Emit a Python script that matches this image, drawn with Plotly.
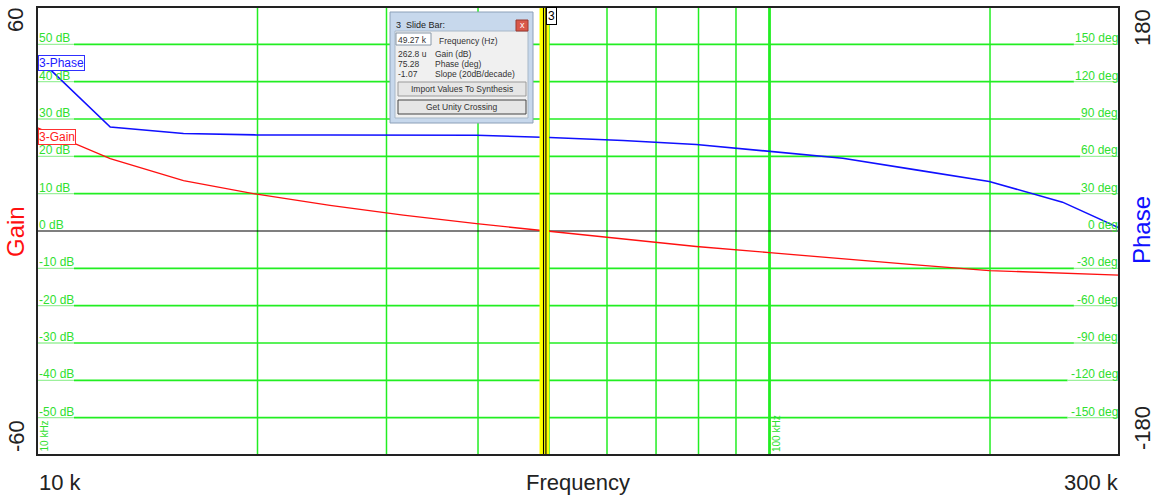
import math
import plotly.graph_objects as go

# ---------------- data ----------------
freq_hz = [10000, 12589, 15849, 19953, 25119, 31623, 39811, 50119, 63096,
           79433, 100000, 125893, 158489, 199526, 251189, 300000]
gain_db = [27.7, 19.4, 13.5, 9.85, 6.85, 4.25, 1.95, -0.1, -2.23, -4.15,
           -5.8, -7.5, -9.07, -10.6, -11.3, -11.8]
phase_deg = [140, 83.5, 78.3, 77.2, 77.2, 77.2, 76.9, 75.1, 72.7, 69.5,
             64.1, 58.5, 49.1, 39.8, 23.2, 2.5]

grid_freqs = [20000, 30000, 40000, 50000, 60000, 70000, 80000, 90000, 100000, 200000]
gain_grid = [50, 40, 30, 20, 10, 0, -10, -20, -30, -40, -50]
phase_grid = [150, 120, 90, 60, 30, 0, -30, -60, -90, -120, -150]
cursor_freq = 49270
dialog_lines = [("262.8 u", "Gain (dB)"), ("75.28", "Phase (deg)"), ("-1.07", "Slope (20dB/decade)")]

# ---------------- geometry helpers ----------------
FIG_W, FIG_H = 1162, 499
X0, X1, Y0, Y1 = 37, 1119, 7, 455
FMIN, FMAX = 10000, 300000
LMIN, LMAX = math.log10(FMIN), math.log10(FMAX)


def px(x):
    return (x - X0) / (X1 - X0)


def py(y):
    return (Y1 - y) / (Y1 - Y0)


def fx(f):
    return (math.log10(f) - LMIN) / (LMAX - LMIN)


def gy(db):
    return (db + 60) / 120.0


FONT = "Arial, Liberation Sans, sans-serif"
GREEN = "#22ee22"
PALE = "#9cf09c"
LBL_GREEN = "#30e030"

fig = go.Figure()
fig.add_trace(go.Scatter(x=freq_hz, y=gain_db, mode="lines", name="3-Gain", hoverinfo="skip",
                         line=dict(color="#ff1010", width=1.3), yaxis="y"))
fig.add_trace(go.Scatter(x=freq_hz, y=phase_deg, mode="lines", name="3-Phase", hoverinfo="skip",
                         line=dict(color="#1010ff", width=1.6), yaxis="y2"))

shapes = []
ann = []

# vertical grid
for f in grid_freqs:
    w = 2.8 if f == 100000 else 1.5
    shapes.append(dict(type="line", xref="paper", yref="paper", x0=fx(f), x1=fx(f),
                       y0=0, y1=1, line=dict(color=GREEN, width=w), layer="below"))

# horizontal grid + labels
for db, deg in zip(gain_grid, phase_grid):
    yy = gy(db)
    rlab = f"{deg} deg"
    rstart = 1119 - (6.3 * len(rlab) + 1)
    if db == 0:
        shapes.append(dict(type="line", xref="paper", yref="paper", x0=0, x1=1, y0=yy, y1=yy,
                           line=dict(color="black", width=1.2), layer="below"))
    else:
        shapes.append(dict(type="line", xref="paper", yref="paper", x0=0, x1=px(74), y0=yy, y1=yy,
                           line=dict(color=PALE, width=1.3), layer="below"))
        shapes.append(dict(type="line", xref="paper", yref="paper", x0=px(74), x1=px(rstart), y0=yy, y1=yy,
                           line=dict(color=GREEN, width=1.6), layer="below"))
        shapes.append(dict(type="line", xref="paper", yref="paper", x0=px(rstart), x1=1, y0=yy, y1=yy,
                           line=dict(color=PALE, width=1.3), layer="below"))
    ann.append(dict(text=f"{db} dB", xref="paper", yref="paper", x=px(38), y=yy, xanchor="left",
                    yanchor="bottom", showarrow=False, font=dict(family=FONT, size=12, color=LBL_GREEN),
                    borderpad=0, yshift=-2))
    ann.append(dict(text=rlab, xref="paper", yref="paper", x=1, y=yy, xanchor="right",
                    yanchor="bottom", showarrow=False, font=dict(family=FONT, size=12, color=LBL_GREEN),
                    borderpad=0, yshift=-2))

# rotated frequency labels
ann.append(dict(text="10 kHz", xref="paper", yref="paper", x=px(44), y=py(453), xanchor="center",
                yanchor="bottom", textangle=-90, showarrow=False,
                font=dict(family=FONT, size=10, color=LBL_GREEN), borderpad=0))
ann.append(dict(text="100 kHz", xref="paper", yref="paper", x=fx(100000) + px(X0 + 7) - px(X0), y=py(453),
                xanchor="center", yanchor="bottom", textangle=-90, showarrow=False,
                font=dict(family=FONT, size=10, color=LBL_GREEN), borderpad=0))

# cursor band
cx = fx(cursor_freq)
dx = 4.8 / (X1 - X0)
shapes.append(dict(type="rect", xref="paper", yref="paper", x0=cx - dx, x1=cx + dx, y0=0, y1=1,
                   fillcolor="#ffff00", line=dict(width=0), layer="above"))
for off in (-0.8, 1.6):
    shapes.append(dict(type="line", xref="paper", yref="paper", x0=cx + off / (X1 - X0),
                       x1=cx + off / (X1 - X0), y0=0, y1=1, line=dict(color="black", width=1.1), layer="above"))
ann.append(dict(text="3", xref="paper", yref="paper", x=cx + 1.8 / (X1 - X0), y=1, xanchor="left",
                yanchor="top", showarrow=False, bgcolor="white", bordercolor="black", borderwidth=1,
                borderpad=1, font=dict(family=FONT, size=12, color="black")))

# plot border
shapes.append(dict(type="rect", xref="paper", yref="paper", x0=0, x1=1, y0=0, y1=1,
                   line=dict(color="#222222", width=2), fillcolor="rgba(0,0,0,0)", layer="above"))

# series labels
ann.append(dict(text="3-Phase", xref="paper", yref="paper", x=px(38), y=py(63), xanchor="left",
                yanchor="middle", showarrow=False, bgcolor="white", bordercolor="#3030ff", borderwidth=1,
                borderpad=0, font=dict(family=FONT, size=12, color="#2020ff")))
ann.append(dict(text="3-Gain", xref="paper", yref="paper", x=px(38), y=py(137), xanchor="left",
                yanchor="middle", showarrow=False, bgcolor="white", bordercolor="#ff3030", borderwidth=1,
                borderpad=0, font=dict(family=FONT, size=12, color="#ff2020")))

# outer axis labels
big = dict(family=FONT, size=22, color="#222222")


def outer(s, x, y, angle=0, font=big):
    ann.append(dict(text=s, xref="paper", yref="paper", x=px(x), y=py(y), textangle=angle,
                    xanchor="center", yanchor="middle", showarrow=False, font=font))


outer("60", 16, 20, -90)
outer("-60", 16, 436, -90)
outer("Gain", 16, 232, -90, dict(family=FONT, size=24, color="#ff1010"))
outer("180", 1142, 28, -90)
outer("-180", 1142, 428, -90)
outer("Phase", 1142, 230, -90, dict(family=FONT, size=24, color="#1010ff"))
outer("10 k", 60, 482)
outer("Frequency", 578, 482)
outer("300 k", 1091, 482)


# ---------------- slide bar dialog ----------------
def rect(x0, y0, x1, y1, fill, line_color, lw=1):
    shapes.append(dict(type="rect", xref="paper", yref="paper", x0=px(x0), x1=px(x1), y0=py(y1), y1=py(y0),
                       fillcolor=fill, line=dict(color=line_color, width=lw), layer="above"))


def txt(s, x, y, anchor="left", size=8.5, color="#333333"):
    ann.append(dict(text=s, xref="paper", yref="paper", x=px(x), y=py(y), xanchor=anchor, yanchor="middle",
                    showarrow=False, borderpad=0, font=dict(family=FONT, size=size, color=color)))


rect(390, 12, 533, 123, "#c7d8ec", "#8ca0b8", 1)
rect(395, 31, 528, 118, "#f0f0f0", "#a8b8c8", 1)
rect(516, 20, 528, 31, "#d9584a", "#9a3a30", 1)
txt("x", 522, 25, "center", 9, "white")
txt("3  Slide Bar:", 395, 25, size=9, color="#222222")
rect(396, 33, 431, 45, "white", "#8898a8", 1)
txt("49.27 k", 397, 39.5, size=8.5)
txt("Frequency (Hz)", 438, 41, size=8.5)
for i, (v, lab) in enumerate(dialog_lines):
    txt(v, 397, 54 + 10 * i, size=8.5)
    txt(lab, 434, 54 + 10 * i, size=8.5)
rect(398, 82, 526, 96, "#e6e6e6", "#9a9a9a", 1)
txt("Import Values To Synthesis", 462, 89, "center", 8.5)
rect(398, 100, 526, 114, "#e6e6e6", "#444444", 1)
txt("Get Unity Crossing", 462, 107, "center", 8.5)

fig.update_layout(
    width=FIG_W, height=FIG_H,
    margin=dict(l=X0, r=FIG_W - X1, t=Y0, b=FIG_H - Y1, pad=0),
    paper_bgcolor="white", plot_bgcolor="white",
    showlegend=False, hovermode=False,
    xaxis=dict(type="log", range=[LMIN, LMAX], showgrid=False, zeroline=False, showticklabels=False,
               showline=False, ticks=""),
    yaxis=dict(range=[-60, 60], showgrid=False, zeroline=False, showticklabels=False, showline=False, ticks=""),
    yaxis2=dict(range=[-180, 180], overlaying="y", side="right", showgrid=False, zeroline=False,
                showticklabels=False, showline=False, ticks=""),
    shapes=shapes, annotations=ann,
)

fig.write_html("out.html", config={"displayModeBar": False},
               post_script="document.body.style.margin='0px';document.body.style.overflow='hidden';")
